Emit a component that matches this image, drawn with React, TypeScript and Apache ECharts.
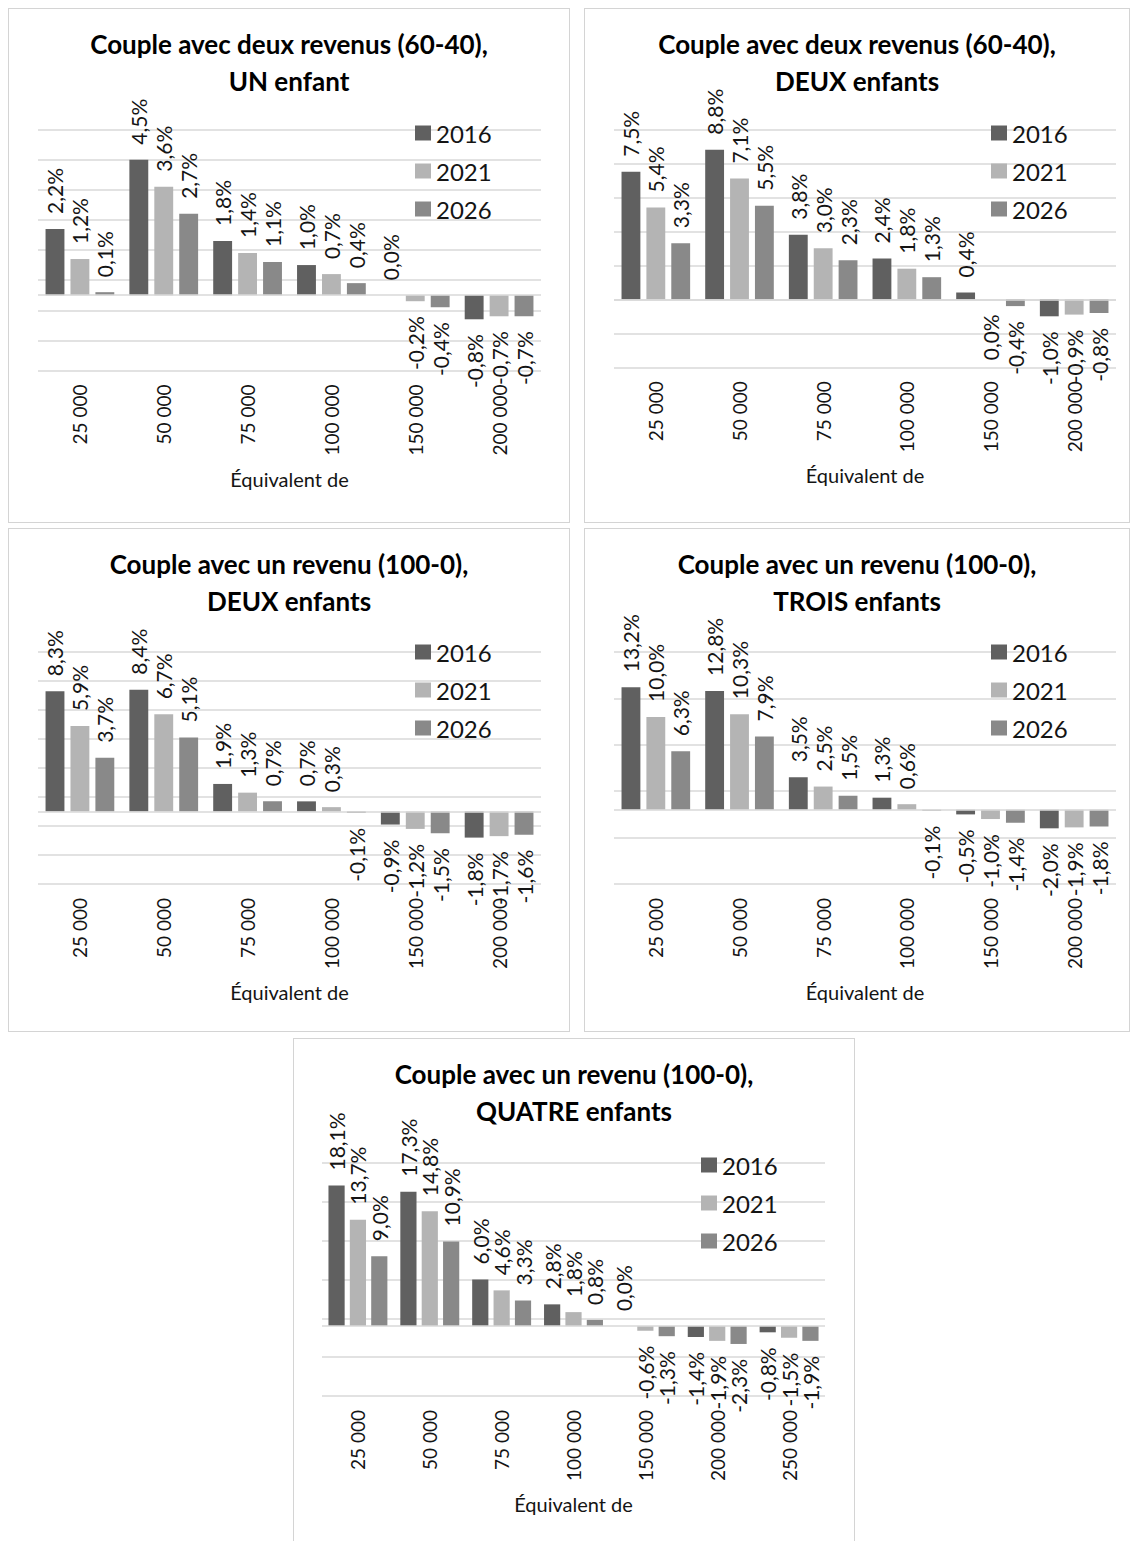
import React, { useEffect, useRef } from "react";
import * as echarts from "echarts";

// ---- data -----------------------------------------------------------------
const YEARS = ["2016", "2021", "2026"];

const INCOMES_SIX = ["25 000", "50 000", "75 000", "100 000", "150 000", "200 000"];
const INCOMES_SEVEN = ["25 000", "50 000", "75 000", "100 000", "150 000", "200 000", "250 000"];

// Couple avec deux revenus (60-40), UN enfant
const twoIncomesOneChild2016 = [2.2, 4.5, 1.8, 1.0, 0.0, -0.8];
const twoIncomesOneChild2021 = [1.2, 3.6, 1.4, 0.7, -0.2, -0.7];
const twoIncomesOneChild2026 = [0.1, 2.7, 1.1, 0.4, -0.4, -0.7];

// Couple avec deux revenus (60-40), DEUX enfants (-0.0: a rounded-down loss)
const twoIncomesTwoChildren2016 = [7.5, 8.8, 3.8, 2.4, 0.4, -1.0];
const twoIncomesTwoChildren2021 = [5.4, 7.1, 3.0, 1.8, -0.0, -0.9];
const twoIncomesTwoChildren2026 = [3.3, 5.5, 2.3, 1.3, -0.4, -0.8];

// Couple avec un revenu (100-0), DEUX enfants
const oneIncomeTwoChildren2016 = [8.3, 8.4, 1.9, 0.7, -0.9, -1.8];
const oneIncomeTwoChildren2021 = [5.9, 6.7, 1.3, 0.3, -1.2, -1.7];
const oneIncomeTwoChildren2026 = [3.7, 5.1, 0.7, -0.1, -1.5, -1.6];

// Couple avec un revenu (100-0), TROIS enfants
const oneIncomeThreeChildren2016 = [13.2, 12.8, 3.5, 1.3, -0.5, -2.0];
const oneIncomeThreeChildren2021 = [10.0, 10.3, 2.5, 0.6, -1.0, -1.9];
const oneIncomeThreeChildren2026 = [6.3, 7.9, 1.5, -0.1, -1.4, -1.8];

// Couple avec un revenu (100-0), QUATRE enfants
const oneIncomeFourChildren2016 = [18.1, 17.3, 6.0, 2.8, 0.0, -1.4, -0.8];
const oneIncomeFourChildren2021 = [13.7, 14.8, 4.6, 1.8, -0.6, -1.9, -1.5];
const oneIncomeFourChildren2026 = [9.0, 10.9, 3.3, 0.8, -1.3, -2.3, -1.9];

// ---- styling --------------------------------------------------------------
const FONT = "Lato, 'Liberation Sans', sans-serif";
const COLORS = ["#606060", "#b4b4b4", "#898989"];
const GRID_COLOR = "#d9d9d9";
const TEXT_COLOR = "#141414";

type Box = { left: number; top: number; width: number; height: number };

type PanelSpec = {
  title: string;
  categories: string[];
  series: number[][];
  axis: { min: number; max: number; interval: number };
  box: Box; // frame in page pixels
  plot: Box; // plotting area in page pixels
  legend: { left: number; top: number }; // page pixels
};

const PANELS: PanelSpec[] = [
  {
    title: "Couple avec deux revenus (60-40),\nUN enfant",
    categories: INCOMES_SIX,
    series: [twoIncomesOneChild2016, twoIncomesOneChild2021, twoIncomesOneChild2026],
    axis: { min: -2.5, max: 5.5, interval: 1 },
    box: { left: 8, top: 8, width: 562, height: 515 },
    plot: { left: 38, top: 129.5, width: 503, height: 241 },
    legend: { left: 415, top: 120 },
  },
  {
    title: "Couple avec deux revenus (60-40),\nDEUX enfants",
    categories: INCOMES_SIX,
    series: [twoIncomesTwoChildren2016, twoIncomesTwoChildren2021, twoIncomesTwoChildren2026],
    axis: { min: -4, max: 10, interval: 2 },
    box: { left: 584, top: 8, width: 546, height: 515 },
    plot: { left: 614, top: 129.3, width: 502, height: 238 },
    legend: { left: 991, top: 120 },
  },
  {
    title: "Couple avec un revenu (100-0),\nDEUX enfants",
    categories: INCOMES_SIX,
    series: [oneIncomeTwoChildren2016, oneIncomeTwoChildren2021, oneIncomeTwoChildren2026],
    axis: { min: -5, max: 11, interval: 2 },
    box: { left: 8, top: 528, width: 562, height: 504 },
    plot: { left: 38, top: 652, width: 503, height: 232 },
    legend: { left: 415, top: 639 },
  },
  {
    title: "Couple avec un revenu (100-0),\nTROIS enfants",
    categories: INCOMES_SIX,
    series: [oneIncomeThreeChildren2016, oneIncomeThreeChildren2021, oneIncomeThreeChildren2026],
    axis: { min: -8, max: 17, interval: 5 },
    box: { left: 584, top: 528, width: 546, height: 504 },
    plot: { left: 614, top: 652, width: 502, height: 232 },
    legend: { left: 991, top: 639 },
  },
  {
    title: "Couple avec un revenu (100-0),\nQUATRE enfants",
    categories: INCOMES_SEVEN,
    series: [oneIncomeFourChildren2016, oneIncomeFourChildren2021, oneIncomeFourChildren2026],
    axis: { min: -9, max: 21, interval: 5 },
    box: { left: 293, top: 1038, width: 562, height: 520 },
    plot: { left: 322, top: 1163, width: 503, height: 233 },
    legend: { left: 701, top: 1152 },
  },
];

const formatPercent = (v: number) => v.toFixed(1).replace(".", ",") + "%";
const isBelowAxis = (v: number) => v < 0 || Object.is(v, -0);

function buildOption(spec: PanelSpec): echarts.EChartsCoreOption {
  // the chart canvas sits inside a 1px frame
  const ox = spec.box.left + 1;
  const oy = spec.box.top + 1;

  const series = spec.series.map((values, i) => ({
    type: "bar",
    name: YEARS[i],
    data: values.map((v) => ({
      value: v,
      label: isBelowAxis(v)
        ? { position: "bottom", align: "right" }
        : { position: "top", align: "left" },
    })),
    itemStyle: { color: COLORS[i] },
    barGap: "32%",
    barCategoryGap: "18%",
    label: {
      show: true,
      rotate: 90,
      distance: 15,
      verticalAlign: "middle",
      fontFamily: FONT,
      fontSize: 21,
      color: TEXT_COLOR,
      formatter: (p: any) => formatPercent(p.value),
    },
    markLine:
      i === 0
        ? {
            silent: true,
            symbol: "none",
            label: { show: false },
            lineStyle: { color: GRID_COLOR, width: 1.5, type: "solid" },
            data: [{ yAxis: 0 }],
          }
        : undefined,
  }));

  return {
    animation: false,
    backgroundColor: "#ffffff",
    title: {
      text: spec.title,
      left: "center",
      top: 11,
      textStyle: {
        fontFamily: FONT,
        fontSize: 26,
        fontWeight: "bold",
        lineHeight: 37,
        color: "#000000",
      },
    },
    legend: {
      orient: "vertical",
      left: spec.legend.left - ox,
      top: spec.legend.top - oy,
      padding: 0,
      itemWidth: 16,
      itemHeight: 15,
      itemGap: 12,
      icon: "rect",
      data: YEARS,
      textStyle: { fontFamily: FONT, fontSize: 24, lineHeight: 26, color: TEXT_COLOR },
    },
    grid: {
      left: spec.plot.left - ox,
      top: spec.plot.top - oy,
      width: spec.plot.width,
      height: spec.plot.height,
      containLabel: false,
    },
    xAxis: {
      type: "category",
      data: spec.categories,
      position: "bottom",
      axisLine: { show: false, onZero: false },
      axisTick: { show: false },
      axisLabel: {
        rotate: 90,
        interval: 0,
        margin: 14,
        fontFamily: FONT,
        fontSize: 19,
        color: TEXT_COLOR,
      },
      name: "Équivalent de",
      nameLocation: "middle",
      nameGap: 98,
      nameTextStyle: { fontFamily: FONT, fontSize: 20, color: TEXT_COLOR },
    },
    yAxis: {
      type: "value",
      min: spec.axis.min,
      max: spec.axis.max,
      interval: spec.axis.interval,
      axisLabel: { show: false },
      axisLine: { show: false },
      axisTick: { show: false },
      splitLine: { lineStyle: { color: GRID_COLOR, width: 1.5 } },
    },
    series,
  } as any;
}

function ChartPanel({ spec }: { spec: PanelSpec }) {
  const ref = useRef<HTMLDivElement>(null);
  useEffect(() => {
    if (!ref.current) return;
    const chart = echarts.init(ref.current, undefined, { renderer: "svg" });
    chart.setOption(buildOption(spec));
    return () => chart.dispose();
  }, [spec]);

  return (
    <div
      style={{
        position: "absolute",
        left: spec.box.left,
        top: spec.box.top,
        width: spec.box.width,
        height: spec.box.height,
        boxSizing: "border-box",
        border: "1px solid #d4d4d4",
        background: "#ffffff",
      }}
    >
      <div ref={ref} style={{ width: spec.box.width - 2, height: spec.box.height - 2 }} />
    </div>
  );
}

export default function App() {
  return (
    <div
      style={{
        position: "absolute",
        left: 0,
        top: 0,
        width: 1138,
        height: 1541,
        overflow: "hidden",
        background: "#ffffff",
      }}
    >
      {PANELS.map((spec, i) => (
        <ChartPanel key={i} spec={spec} />
      ))}
    </div>
  );
}
